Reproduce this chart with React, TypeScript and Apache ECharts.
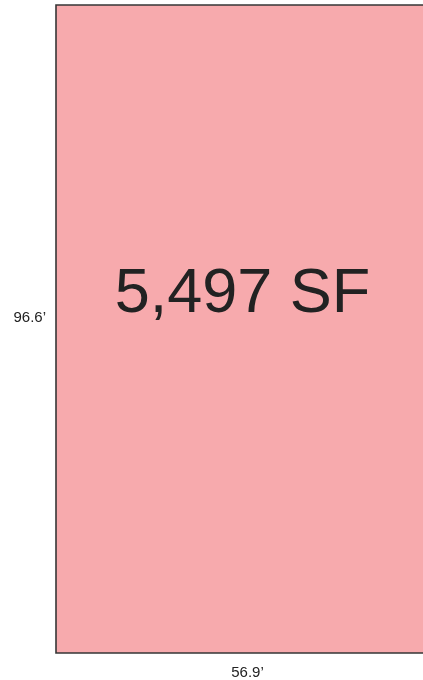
import React, { useEffect, useRef } from "react";
import * as echarts from "echarts";

const widthFt = 56.9;
const depthFt = 96.6;
const areaLabel = "5,497 SF";
const widthLabel = "56.9’";
const depthLabel = "96.6’";
const lots = [[0, 0, widthFt, depthFt]];

export default function App() {
  const ref = useRef<HTMLDivElement>(null);
  useEffect(() => {
    const chart = echarts.init(ref.current!, null, { renderer: "svg" });
    const font = "Liberation Sans, Arial, sans-serif";
    chart.setOption({
      animation: false,
      grid: { left: 56, top: 5, width: 372, height: 648 },
      xAxis: { type: "value", min: 0, max: widthFt, show: false },
      yAxis: { type: "value", min: 0, max: depthFt, show: false },
      series: [
        {
          type: "custom",
          clip: false,
          data: lots,
          renderItem: (params: any, api: any) => {
            const p0 = api.coord([api.value(0), api.value(1)]);
            const p1 = api.coord([api.value(2), api.value(3)]);
            const x = Math.min(p0[0], p1[0]);
            const y = Math.min(p0[1], p1[1]);
            const w = Math.abs(p1[0] - p0[0]);
            const h = Math.abs(p1[1] - p0[1]);
            const cx = x + w / 2;
            const cy = y + h / 2;
            return {
              type: "group",
              children: [
                {
                  type: "rect",
                  shape: { x, y, width: w, height: h },
                  style: { fill: "#f7aaad", stroke: "none" },
                },
                {
                  type: "polyline",
                  shape: { points: [[x + w, y], [x, y], [x, y + h], [x + w, y + h]] },
                  style: { fill: "none", stroke: "#363636", lineWidth: 1.6 },
                },
                {
                  type: "text",
                  x: cx + 3,
                  y: cy - 39,
                  style: {
                    text: areaLabel,
                    fontFamily: font,
                    fontSize: 63,
                    fill: "#222222",
                    align: "center",
                    verticalAlign: "middle",
                  },
                },
                {
                  type: "text",
                  x: x - 10,
                  y: cy - 13,
                  style: {
                    text: depthLabel,
                    fontFamily: font,
                    fontSize: 15,
                    fill: "#222222",
                    align: "right",
                    verticalAlign: "middle",
                  },
                },
                {
                  type: "text",
                  x: cx + 8,
                  y: y + h + 18,
                  style: {
                    text: widthLabel,
                    fontFamily: font,
                    fontSize: 15,
                    fill: "#222222",
                    align: "center",
                    verticalAlign: "middle",
                  },
                },
              ],
            };
          },
        },
      ],
    });
    return () => chart.dispose();
  }, []);
  return <div ref={ref} style={{ width: 423, height: 680, position: "fixed", left: 0, top: 0 }} />;
}
